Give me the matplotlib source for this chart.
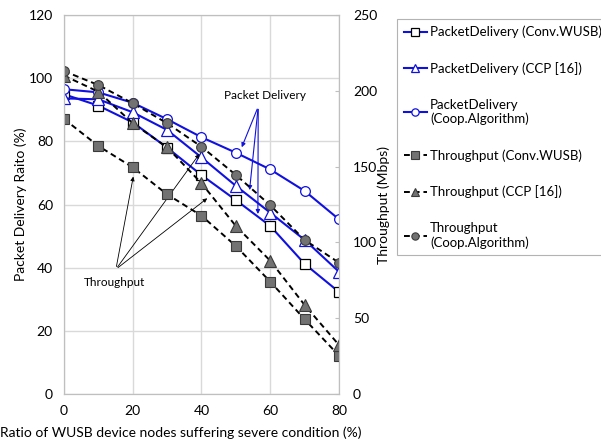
import numpy as np
import matplotlib.pyplot as plt

plt.rcParams['font.family'] = ['Lato', 'DejaVu Sans']
plt.rcParams['font.size'] = 10

# x: ratio of WUSB device nodes suffering severe condition (%)
ratio = [0, 10, 20, 30, 40, 50, 60, 70, 80]

# packet delivery ratio (%), left axis
pd_conv = [94.9, 91.3, 86.0, 78.0, 69.3, 61.4, 53.2, 41.2, 32.3]
pd_ccp = [93.6, 93.3, 89.2, 83.6, 74.9, 65.9, 57.4, 48.8, 38.7]
pd_coop = [96.5, 95.5, 92.2, 87.0, 81.3, 76.4, 71.1, 64.3, 55.3]

# throughput (Mbps), right axis
tp_conv = [181.4, 163.6, 149.5, 131.7, 117.6, 97.6, 74.1, 49.3, 25.3]
tp_ccp = [210.0, 199.4, 178.6, 162.7, 139.0, 110.8, 87.9, 58.7, 32.3]
tp_coop = [213.0, 203.8, 191.8, 178.6, 163.1, 144.5, 124.5, 101.6, 86.6]

blue = '#1010e0'
grey = '#727272'
gridc = '#d9d9d9'

fig = plt.figure(figsize=(6.01, 4.42), dpi=100)
ax = fig.add_axes([64/601, 48/442, 275/601, 379/442])
ax2 = ax.twinx()

ms = 7
ax.plot(ratio, pd_conv, color=blue, lw=1.5, marker='s', ms=ms, mfc='white', mec='black', mew=0.9,
        label='PacketDelivery (Conv.WUSB)')
ax.plot(ratio, pd_ccp, color=blue, lw=1.5, marker='^', ms=ms+1, mfc='white', mec=blue, mew=0.9,
        label='PacketDelivery (CCP [16])')
ax.plot(ratio, pd_coop, color=blue, lw=1.5, marker='o', ms=ms, mfc='white', mec=blue, mew=0.9,
        label='PacketDelivery\n(Coop.Algorithm)')

ax2.plot(ratio, tp_conv, color='black', lw=1.4, ls=(0, (3, 2)), marker='s', ms=ms, mfc=grey, mec='#3a3a3a',
         mew=0.8, label='Throughput (Conv.WUSB)')
ax2.plot(ratio, tp_ccp, color='black', lw=1.4, ls=(0, (3, 2)), marker='^', ms=ms+1, mfc=grey, mec='#3a3a3a',
         mew=0.8, label='Throughput (CCP [16])')
ax2.plot(ratio, tp_coop, color='black', lw=1.4, ls=(0, (3, 2)), marker='o', ms=ms, mfc=grey, mec='#3a3a3a',
         mew=0.8, label='Throughput\n(Coop.Algorithm)')

ax.set_xlim(0, 80)
ax.set_ylim(0, 120)
ax2.set_ylim(0, 250)
ax.set_xticks([0, 20, 40, 60, 80])
ax.set_yticks(range(0, 121, 20))
ax2.set_yticks(range(0, 251, 50))
ax.grid(True, color=gridc, lw=1)
ax.set_axisbelow(True)
for a in (ax, ax2):
    for s in a.spines.values():
        s.set_color('#bfbfbf')
ax.tick_params(axis='both', length=0, pad=8)
ax2.tick_params(axis='y', direction='in', length=3, color='#bfbfbf', pad=10)

ax.set_xlabel('Ratio of WUSB device nodes suffering severe condition (%)', labelpad=6)
ax.xaxis.set_label_coords(0.425, -0.085)
ax.set_ylabel('Packet Delivery Raito (%)', labelpad=1)
ax2.set_ylabel('Throughput (Mbps)', labelpad=0)

# annotations
tips_pd = [(51.4, 77.3), (53.9, 63.7), (56.4, 56.1)]
for t in tips_pd:
    ax.annotate('', xy=t, xytext=(56.5, 91.0),
                arrowprops=dict(arrowstyle='-|>', color=blue, lw=0.8, mutation_scale=6))
ax.text(58.6, 94.4, 'Packet Delivery', ha='center', va='center', fontsize=8.5)

tips_tp = [(20.3, 69.7), (39.85, 76.7), (42.3, 62.5)]
for t in tips_tp:
    ax.annotate('', xy=t, xytext=(15.1, 39.5),
                arrowprops=dict(arrowstyle='-|>', color='black', lw=0.6, mutation_scale=6))
ax.text(14.8, 35.3, 'Throughput', ha='center', va='center', fontsize=8.5)

h1, l1 = ax.get_legend_handles_labels()
h2, l2 = ax2.get_legend_handles_labels()
leg = fig.legend(h1 + h2, l1 + l2, loc='upper left', bbox_to_anchor=(397/601, 1 - 19/442),
                 frameon=True, fancybox=False, edgecolor='#a0a0a0', borderaxespad=0,
                 labelspacing=1.8, handlelength=1.8, handletextpad=0.2, fontsize=9.5,
                 borderpad=0.5, markerscale=0.75)
leg.get_frame().set_linewidth(0.8)

fig.savefig('out.png', dpi=100)
